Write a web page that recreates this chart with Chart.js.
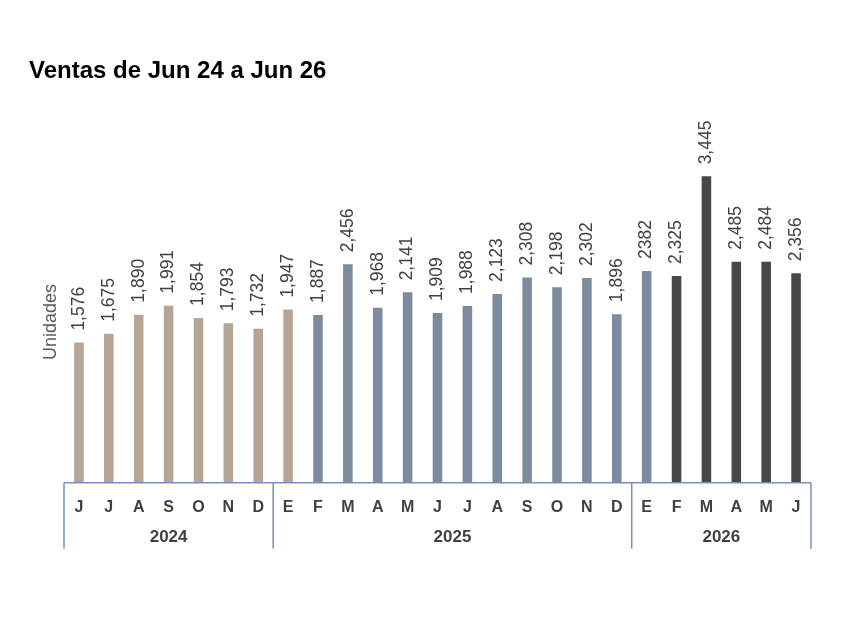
<!DOCTYPE html>
<html>
<head>
<meta charset="utf-8">
<script src="https://cdn.jsdelivr.net/npm/chart.js@4"></script>
<style>
  body { margin: 0; background: #fff; }
  #wrap { width: 860px; height: 639px; }
</style>
</head>
<body>
<div id="wrap"><canvas id="ventas"></canvas></div>
<script>
// datos
const months = ['J','J','A','S','O','N','D','E','F','M','A','M','J','J','A','S','O','N','D','E','F','M','A','M','J'];
const units = [1576,1675,1890,1991,1854,1793,1732,1947,1887,2456,1968,2141,1909,1988,2123,2308,2198,2302,1896,2382,2325,3445,2485,2484,2356];
const unitLabels = ['1,576','1,675','1,890','1,991','1,854','1,793','1,732','1,947','1,887','2,456','1,968','2,141','1,909','1,988','2,123','2,308','2,198','2,302','1,896','2382','2,325','3,445','2,485','2,484','2,356'];
const yearNames = ['2024','2025','2026'];
const yearCounts = [7, 12, 6];
const chartTitle = 'Ventas de Jun 24 a Jun 26';
const axisTitle = 'Unidades';

// colores por tramo
const colorList = ['#b4a596', '#7c8c9e', '#484848'];
const colorCounts = [8, 12, 5];
let barColors = [];
colorCounts.forEach((n, i) => { for (let k = 0; k < n; k++) barColors.push(colorList[i]); });

const boxColor = '#7790c2';
const textColor = '#404040';

// dibuja títulos, etiquetas y las cajas de años
const extras = {
  id: 'extras',
  afterDraw(chart) {
    const ctx = chart.ctx;
    const area = chart.chartArea;
    const x = chart.scales.x;
    const half = (x.getPixelForValue(1) - x.getPixelForValue(0)) / 2;
    ctx.save();

    // título
    ctx.fillStyle = '#000';
    ctx.font = 'bold 24px "Liberation Sans", Arial, sans-serif';
    ctx.textAlign = 'left';
    ctx.textBaseline = 'middle';
    ctx.fillText(chartTitle, 29, 71);

    // título del eje
    ctx.save();
    ctx.translate(51, 322);
    ctx.rotate(-Math.PI / 2);
    ctx.fillStyle = '#595959';
    ctx.font = '18px "Liberation Sans", Arial, sans-serif';
    ctx.textAlign = 'center';
    ctx.fillText(axisTitle, 0, 0);
    ctx.restore();

    // valores
    const meta = chart.getDatasetMeta(0);
    ctx.fillStyle = textColor;
    ctx.font = '17.5px "Liberation Sans", Arial, sans-serif';
    meta.data.forEach((bar, i) => {
      ctx.save();
      ctx.translate(bar.x, bar.y - 12);
      ctx.rotate(-Math.PI / 2);
      ctx.textAlign = 'left';
      ctx.textBaseline = 'middle';
      ctx.fillText(unitLabels[i], 0, 0);
      ctx.restore();
    });

    // cajas de años
    ctx.strokeStyle = boxColor;
    ctx.lineWidth = 1.5;
    ctx.beginPath();
    ctx.moveTo(x.getPixelForValue(0) - half, area.bottom);
    ctx.lineTo(x.getPixelForValue(months.length - 1) + half, area.bottom);
    let start = 0;
    const edges = [start];
    yearCounts.forEach(n => { start += n; edges.push(start); });
    edges.forEach(idx => {
      const px = idx < months.length ? x.getPixelForValue(idx) - half : x.getPixelForValue(months.length - 1) + half;
      ctx.moveTo(px, area.bottom);
      ctx.lineTo(px, area.bottom + 66);
    });
    ctx.stroke();

    ctx.font = 'bold 17px "Liberation Sans", Arial, sans-serif';
    ctx.textAlign = 'center';
    ctx.textBaseline = 'middle';
    yearNames.forEach((name, i) => {
      const a = x.getPixelForValue(edges[i]) - half;
      const b = x.getPixelForValue(edges[i + 1] - 1) + half;
      ctx.fillText(name, (a + b) / 2, area.bottom + 55);
    });
    ctx.restore();
  }
};

new Chart(document.getElementById('ventas'), {
  type: 'bar',
  data: {
    labels: months,
    datasets: [{
      label: axisTitle,
      data: units,
      backgroundColor: barColors,
      barPercentage: 0.32,
      categoryPercentage: 1
    }]
  },
  options: {
    responsive: true,
    maintainAspectRatio: false,
    animation: false,
    layout: { padding: { top: 127, left: 64, right: 49, bottom: 107 } },
    plugins: {
      legend: { display: false },
      tooltip: { enabled: false },
      title: { display: false }
    },
    scales: {
      x: {
        grid: { display: false, drawTicks: false },
        border: { display: false },
        ticks: {
          color: textColor,
          font: { family: '"Liberation Sans", Arial, sans-serif', size: 16, weight: 'bold' },
          padding: 15,
          autoSkip: false,
          maxRotation: 0
        }
      },
      y: {
        display: false,
        min: 0,
        max: 4000
      }
    }
  },
  plugins: [extras]
});
</script>
</body>
</html>
